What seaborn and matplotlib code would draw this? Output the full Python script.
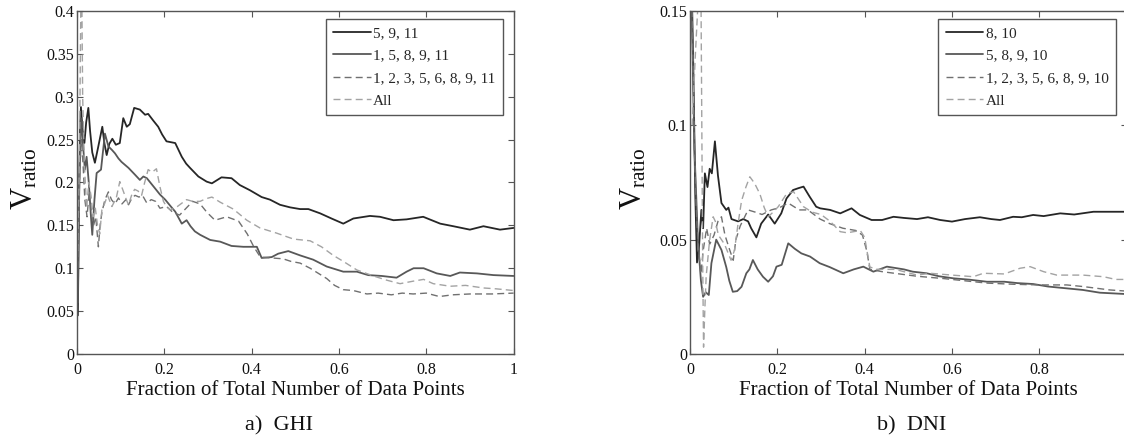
import matplotlib
matplotlib.use("Agg")
import matplotlib.pyplot as plt
import seaborn as sns

# ---------------- GHI panel ----------------
ghi_labels = ["5, 9, 11", "1, 5, 8, 9, 11", "1, 2, 3, 5, 6, 8, 9, 11", "All"]

ghi_x_a = [0.002, 0.004, 0.007, 0.009, 0.013, 0.017, 0.021, 0.026, 0.030, 0.035, 0.041, 0.048,
           0.058, 0.063, 0.068, 0.074, 0.081, 0.089, 0.098, 0.106, 0.114, 0.121, 0.131, 0.144,
           0.156, 0.163, 0.175, 0.186, 0.195, 0.205, 0.215, 0.225, 0.240, 0.250, 0.259, 0.278,
           0.297, 0.309, 0.331, 0.354, 0.373, 0.396, 0.423, 0.442, 0.465, 0.488, 0.511, 0.530,
           0.557, 0.583, 0.610, 0.633, 0.671, 0.694, 0.725, 0.755, 0.793, 0.832, 0.862, 0.900,
           0.931, 0.969, 1.000]
ghi_y_a = [0.045, 0.150, 0.260, 0.288, 0.260, 0.246, 0.270, 0.287, 0.260, 0.235, 0.223, 0.240,
           0.265, 0.245, 0.232, 0.245, 0.251, 0.244, 0.246, 0.275, 0.265, 0.268, 0.287, 0.285,
           0.279, 0.280, 0.272, 0.265, 0.256, 0.248, 0.247, 0.246, 0.230, 0.222, 0.217, 0.207,
           0.201, 0.199, 0.206, 0.205, 0.197, 0.191, 0.183, 0.180, 0.174, 0.171, 0.169, 0.169,
           0.164, 0.158, 0.152, 0.158, 0.161, 0.160, 0.156, 0.157, 0.160, 0.152, 0.149, 0.145,
           0.149, 0.145, 0.147]

ghi_x_b = [0.002, 0.005, 0.009, 0.013, 0.018, 0.022, 0.027, 0.032, 0.035, 0.040, 0.045, 0.055,
           0.064, 0.072, 0.080, 0.087, 0.095, 0.102, 0.118, 0.133, 0.144, 0.152, 0.160, 0.179,
           0.190, 0.202, 0.215, 0.225, 0.240, 0.251, 0.260, 0.270, 0.282, 0.305, 0.328, 0.354,
           0.381, 0.412, 0.423, 0.446, 0.461, 0.484, 0.511, 0.541, 0.572, 0.610, 0.641, 0.667,
           0.698, 0.732, 0.755, 0.771, 0.794, 0.824, 0.855, 0.877, 0.916, 0.954, 1.000]
ghi_y_b = [0.060, 0.200, 0.275, 0.250, 0.215, 0.230, 0.200, 0.160, 0.139, 0.180, 0.211, 0.215,
           0.257, 0.242, 0.238, 0.234, 0.228, 0.224, 0.217, 0.209, 0.203, 0.207, 0.205, 0.193,
           0.186, 0.180, 0.172, 0.166, 0.152, 0.156, 0.149, 0.143, 0.139, 0.133, 0.131, 0.126,
           0.125, 0.125, 0.112, 0.113, 0.117, 0.120, 0.115, 0.110, 0.102, 0.096, 0.096, 0.092,
           0.091, 0.089, 0.096, 0.100, 0.100, 0.094, 0.091, 0.095, 0.094, 0.092, 0.091]

ghi_x_c = [0.002, 0.006, 0.010, 0.014, 0.018, 0.023, 0.028, 0.033, 0.038, 0.043, 0.049, 0.053,
           0.057, 0.064, 0.072, 0.079, 0.087, 0.095, 0.103, 0.112, 0.118, 0.126, 0.133, 0.142,
           0.150, 0.160, 0.170, 0.180, 0.190, 0.205, 0.220, 0.235, 0.250, 0.265, 0.282, 0.298,
           0.316, 0.343, 0.370, 0.390, 0.405, 0.420, 0.446, 0.472, 0.490, 0.511, 0.534, 0.553,
           0.572, 0.590, 0.610, 0.633, 0.664, 0.690, 0.720, 0.745, 0.770, 0.800, 0.830, 0.860,
           0.900, 0.950, 1.000]
ghi_y_c = [0.100, 0.210, 0.250, 0.220, 0.180, 0.160, 0.190, 0.165, 0.150, 0.160, 0.125, 0.150,
           0.165, 0.180, 0.189, 0.180, 0.175, 0.182, 0.175, 0.180, 0.174, 0.182, 0.185, 0.183,
           0.185, 0.176, 0.180, 0.178, 0.170, 0.172, 0.165, 0.162, 0.170, 0.178, 0.175, 0.165,
           0.156, 0.160, 0.155, 0.140, 0.125, 0.113, 0.112, 0.111, 0.108, 0.106, 0.100, 0.094,
           0.088, 0.080, 0.075, 0.074, 0.070, 0.071, 0.069, 0.071, 0.070, 0.071, 0.067, 0.069,
           0.070, 0.070, 0.071]

ghi_x_d = [0.002, 0.006, 0.009, 0.011, 0.013, 0.017, 0.022, 0.027, 0.032, 0.037, 0.042, 0.047,
           0.052, 0.057, 0.063, 0.070, 0.080, 0.090, 0.098, 0.106, 0.113, 0.118, 0.125, 0.132,
           0.140, 0.148, 0.155, 0.163, 0.172, 0.182, 0.190, 0.198, 0.205, 0.215, 0.230, 0.251,
           0.265, 0.282, 0.295, 0.309, 0.328, 0.358, 0.389, 0.419, 0.457, 0.496, 0.534, 0.560,
           0.587, 0.610, 0.641, 0.679, 0.710, 0.740, 0.771, 0.794, 0.816, 0.855, 0.890, 0.931,
           0.960, 1.000]
ghi_y_d = [0.120, 0.250, 0.420, 0.420, 0.300, 0.220, 0.170, 0.200, 0.185, 0.160, 0.170, 0.150,
           0.140, 0.168, 0.175, 0.185, 0.172, 0.182, 0.201, 0.190, 0.180, 0.174, 0.185, 0.192,
           0.190, 0.185, 0.200, 0.215, 0.212, 0.216, 0.195, 0.178, 0.172, 0.168, 0.172, 0.180,
           0.178, 0.178, 0.181, 0.183, 0.177, 0.169, 0.156, 0.147, 0.141, 0.134, 0.132, 0.125,
           0.115, 0.108, 0.098, 0.091, 0.086, 0.082, 0.085, 0.087, 0.082, 0.079, 0.080, 0.077,
           0.076, 0.074]

# ---------------- DNI panel ----------------
dni_labels = ["8, 10", "5, 8, 9, 10", "1, 2, 3, 5, 6, 8, 9, 10", "All"]

dni_x_a = [0.004, 0.008, 0.012, 0.016, 0.020, 0.026, 0.030, 0.034, 0.040, 0.045, 0.050, 0.057,
           0.064, 0.072, 0.083, 0.088, 0.095, 0.110, 0.122, 0.133, 0.140, 0.152, 0.163, 0.179,
           0.194, 0.209, 0.221, 0.236, 0.248, 0.260, 0.274, 0.289, 0.298, 0.321, 0.344, 0.370,
           0.389, 0.416, 0.440, 0.466, 0.490, 0.520, 0.545, 0.573, 0.600, 0.630, 0.664, 0.690,
           0.710, 0.740, 0.760, 0.786, 0.810, 0.848, 0.880, 0.924, 0.960, 1.000]
dni_y_a = [0.160, 0.120, 0.070, 0.040, 0.045, 0.063, 0.055, 0.079, 0.073, 0.081, 0.079, 0.093,
           0.078, 0.066, 0.063, 0.064, 0.059, 0.058, 0.059, 0.058, 0.055, 0.051, 0.057, 0.061,
           0.057, 0.0615, 0.068, 0.0717, 0.0725, 0.0732, 0.0688, 0.0644, 0.0637, 0.063, 0.0615,
           0.0637, 0.0608, 0.0586, 0.0586, 0.0600, 0.0595, 0.0590, 0.0598, 0.0586, 0.0579,
           0.0590, 0.0598, 0.0590, 0.0586, 0.0600, 0.0598, 0.0608, 0.0603, 0.0615, 0.0610,
           0.0622, 0.0622, 0.0622]

dni_x_b = [0.003, 0.010, 0.018, 0.025, 0.030, 0.036, 0.043, 0.049, 0.060, 0.072, 0.083, 0.090,
           0.098, 0.108, 0.118, 0.129, 0.136, 0.144, 0.155, 0.167, 0.179, 0.190, 0.198, 0.210,
           0.225, 0.240, 0.255, 0.275, 0.297, 0.320, 0.351, 0.375, 0.397, 0.420, 0.451, 0.490,
           0.510, 0.542, 0.570, 0.603, 0.640, 0.680, 0.720, 0.750, 0.786, 0.820, 0.863, 0.900,
           0.939, 0.970, 1.000]
dni_y_b = [0.160, 0.090, 0.050, 0.032, 0.025, 0.027, 0.0258, 0.0397, 0.050, 0.0455, 0.038, 0.032,
           0.0272, 0.0275, 0.0294, 0.0353, 0.037, 0.0411, 0.037, 0.0338, 0.0316, 0.034, 0.0382,
           0.039, 0.0484, 0.046, 0.044, 0.0426, 0.0397, 0.038, 0.0353, 0.037, 0.0382, 0.036,
           0.0382, 0.037, 0.036, 0.0353, 0.034, 0.0331, 0.0325, 0.0316, 0.0316, 0.031, 0.0306,
           0.0295, 0.0287, 0.028, 0.0268, 0.0265, 0.0262]

dni_x_c = [0.004, 0.010, 0.015, 0.020, 0.025, 0.030, 0.038, 0.045, 0.055, 0.064, 0.072, 0.080,
           0.090, 0.099, 0.105, 0.115, 0.133, 0.150, 0.165, 0.186, 0.205, 0.225, 0.250, 0.270,
           0.298, 0.320, 0.350, 0.380, 0.395, 0.405, 0.412, 0.440, 0.480, 0.520, 0.580, 0.630,
           0.680, 0.740, 0.800, 0.863, 0.900, 0.962, 1.000]
dni_y_c = [0.160, 0.090, 0.060, 0.045, 0.035, 0.045, 0.055, 0.048, 0.052, 0.058, 0.060, 0.052,
           0.046, 0.041, 0.050, 0.056, 0.063, 0.062, 0.061, 0.063, 0.064, 0.066, 0.063, 0.063,
           0.059, 0.057, 0.055, 0.054, 0.052, 0.045, 0.037, 0.036, 0.035, 0.034, 0.033, 0.032,
           0.031, 0.0305, 0.0302, 0.0302, 0.0295, 0.028, 0.0275]

dni_x_d = [0.005, 0.012, 0.020, 0.025, 0.027, 0.029, 0.031, 0.034, 0.037, 0.045, 0.053, 0.058,
           0.065, 0.079, 0.094, 0.102, 0.110, 0.118, 0.128, 0.137, 0.148, 0.160, 0.170, 0.179,
           0.190, 0.202, 0.221, 0.237, 0.260, 0.280, 0.300, 0.321, 0.344, 0.360, 0.390, 0.400,
           0.405, 0.412, 0.430, 0.470, 0.520, 0.550, 0.600, 0.649, 0.672, 0.720, 0.756, 0.779,
           0.810, 0.840, 0.900, 0.947, 0.975, 1.000]
dni_y_d = [0.100, 0.130, 0.160, 0.160, 0.100, 0.040, 0.003, 0.020, 0.034, 0.050, 0.060, 0.058,
           0.052, 0.048, 0.041, 0.0455, 0.057, 0.067, 0.073, 0.0775, 0.0746, 0.070, 0.064,
           0.060, 0.062, 0.0644, 0.070, 0.071, 0.0644, 0.062, 0.061, 0.058, 0.0535, 0.053,
           0.054, 0.051, 0.0455, 0.038, 0.037, 0.037, 0.0345, 0.0353, 0.0345, 0.0338, 0.0353,
           0.035, 0.0375, 0.0382, 0.036, 0.0345, 0.0345, 0.0338, 0.0326, 0.0326]

# ---------------- styling ----------------
sns.set_theme(style="ticks")
plt.rcParams.update({
    "font.family": "serif",
    "font.serif": ["Liberation Serif", "DejaVu Serif"],
    "mathtext.fontset": "custom",
    "mathtext.rm": "Liberation Serif",
    "mathtext.it": "Liberation Serif:italic",
    "axes.edgecolor": "#555555",
    "axes.linewidth": 1.0,
    "xtick.color": "#555555",
    "ytick.color": "#555555",
    "xtick.labelcolor": "#111111",
    "ytick.labelcolor": "#111111",
})

line_colors = ["#262626", "#585858", "#707070", "#a3a3a3"]
line_styles = ["-", "-", (0, (5, 3)), (0, (5, 3))]
line_widths = [1.3, 1.3, 1.0, 1.0]

fig = plt.figure(figsize=(11.24, 4.36), dpi=100)
ax_ghi = fig.add_axes([0.0685, 0.1881, 0.3884, 0.7867])
ax_dni = fig.add_axes([0.6139, 0.1881, 0.3884, 0.7867])


def draw_panel(ax, xs, ys, labels, ymax, yticks, yticklabels, label_x):
    for x, y, lab, c, ls, lw in zip(xs, ys, labels, line_colors, line_styles, line_widths):
        sns.lineplot(x=x, y=y, ax=ax, color=c, linestyle=ls, linewidth=lw,
                     label=lab, sort=False, estimator=None)
    ax.set_xlim(0, 1)
    ax.set_ylim(0, ymax)
    ax.set_xticks([0, 0.2, 0.4, 0.6, 0.8, 1.0])
    ax.set_xticklabels(["0", "0.2", "0.4", "0.6", "0.8", "1"])
    ax.set_yticks(yticks)
    ax.set_yticklabels(yticklabels)
    ax.tick_params(axis="both", direction="in", top=True, right=True,
                   length=4, width=0.8, labelsize=11.5)
    ax.tick_params(axis="x", pad=6)
    ax.tick_params(axis="y", pad=2)
    ax.set_xlabel("Fraction of Total Number of Data Points", fontsize=15,
                  labelpad=2, color="#111111")
    ax.set_ylabel(r"$\mathrm{V}_{\mathrm{ratio}}$", fontsize=22, color="#111111")
    ax.yaxis.set_label_coords(label_x, 0.51)
    leg = ax.legend(loc="upper right", bbox_to_anchor=(0.976, 0.978),
                    borderaxespad=0, fontsize=11, frameon=True, fancybox=False,
                    framealpha=1, edgecolor="#555555", handlelength=2.45,
                    handletextpad=0.15, labelspacing=0.58, borderpad=0.5)
    leg.get_frame().set_linewidth(1.0)
    for s in ax.spines.values():
        s.set_visible(True)


draw_panel(ax_ghi,
           [ghi_x_a, ghi_x_b, ghi_x_c, ghi_x_d],
           [ghi_y_a, ghi_y_b, ghi_y_c, ghi_y_d],
           ghi_labels, 0.4,
           [0, 0.05, 0.1, 0.15, 0.2, 0.25, 0.3, 0.35, 0.4],
           ["0", "0.05", "0.1", "0.15", "0.2", "0.25", "0.3", "0.35", "0.4"],
           -0.085)

draw_panel(ax_dni,
           [dni_x_a, dni_x_b, dni_x_c, dni_x_d],
           [dni_y_a, dni_y_b, dni_y_c, dni_y_d],
           dni_labels, 0.15,
           [0, 0.05, 0.1, 0.15],
           ["0", "0.05", "0.1", "0.15"],
           -0.095)

fig.text(0.218, 0.012, "a)  GHI", fontsize=16, ha="left", va="baseline", color="#111111")
fig.text(0.780, 0.012, "b)  DNI", fontsize=16, ha="left", va="baseline", color="#111111")

fig.savefig("out.png", dpi=100, facecolor="white")
